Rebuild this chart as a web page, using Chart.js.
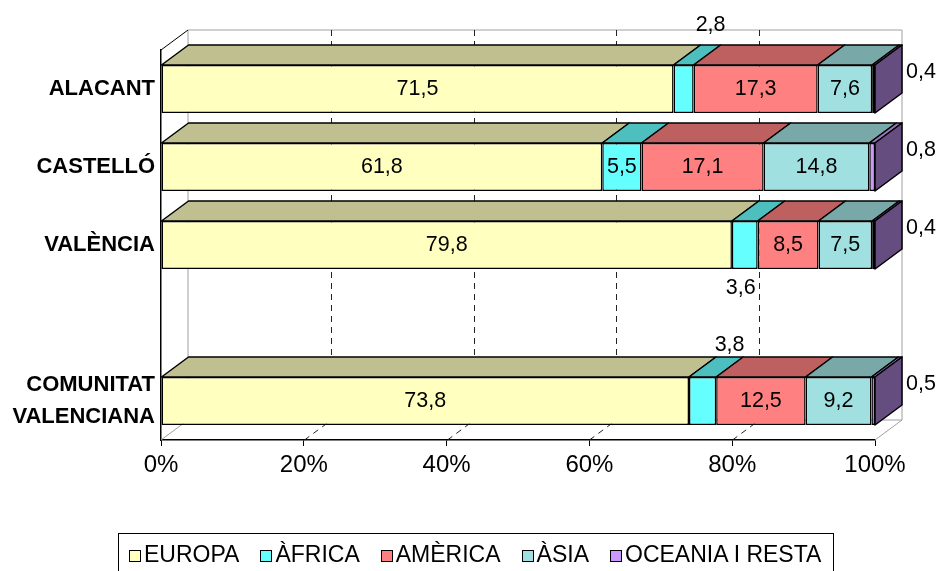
<!DOCTYPE html>
<html>
<head>
<meta charset="utf-8">
<script src="https://cdn.jsdelivr.net/npm/chart.js@4.4.1/dist/chart.umd.min.js"></script>
<style>
  html, body { margin: 0; padding: 0; background: #fff; }
  #wrap { position: relative; width: 942px; height: 571px; overflow: hidden; }
  #legend {
    position: absolute; left: 118px; top: 533px; width: 716px; height: 50px;
    box-sizing: border-box; border: 1px solid #000; padding: 7px 0 0 10px;
    font: 23px 'Liberation Sans', Arial, sans-serif; line-height: 26px; white-space: nowrap;
  }
  .item { display: inline-block; margin-right: 21px; }
  .box { display: inline-block; width: 10px; height: 10px; border: 1px solid #000; margin-right: 3px; }
</style>
</head>
<body>
<div id="wrap">
  <canvas id="chart" width="942" height="571"></canvas>
  <div id="legend"></div>
</div>
<script>
// dades (%)
const categories = ['ALACANT', 'CASTELLÓ', 'VALÈNCIA', '', ['COMUNITAT', 'VALENCIANA']];
const seriesNames = ['EUROPA', 'ÀFRICA', 'AMÈRICA', 'ÀSIA', 'OCEANIA I RESTA'];
const europa  = [71.5, 61.8, 79.8, null, 73.8];
const africa  = [2.8, 5.5, 3.6, null, 3.8];
const america = [17.3, 17.1, 8.5, null, 12.5];
const asia    = [7.6, 14.8, 7.5, null, 9.2];
const oceania = [0.4, 0.8, 0.4, null, 0.5];
const xTicks = [0, 20, 40, 60, 80, 100];

const series = [europa, africa, america, asia, oceania];
const colors = ['#ffffc0', '#66ffff', '#ff8080', '#a0e0e0', '#cc99ff'];
const FONT = "'Liberation Sans', Arial, sans-serif";
const DX = 27, DY = -20;

function shade(hex, k) {
    const n = parseInt(hex.slice(1), 16);
    const r = Math.round(((n >> 16) & 255) * k), g = Math.round(((n >> 8) & 255) * k), b = Math.round((n & 255) * k);
    return `rgb(${r},${g},${b})`;
}

// 100% apilat, com a Excel
const totals = categories.map((c, i) => series.reduce((s, arr) => s + (arr[i] || 0), 0));

const datasets = series.map((arr, di) => ({
    label: seriesNames[di],
    data: arr.map((v, i) => v == null ? null : v * 100 / totals[i]),
    raw: arr,
    backgroundColor: colors[di],
    borderColor: '#000',
    borderWidth: 1.5,
    borderSkipped: false,
    categoryPercentage: 1,
    barPercentage: 0.615
}));

function seg(ctx, pts, fill) {
    ctx.beginPath();
    ctx.moveTo(pts[0][0], pts[0][1]);
    for (let k = 1; k < pts.length; k++) ctx.lineTo(pts[k][0], pts[k][1]);
    ctx.closePath();
    ctx.fillStyle = fill;
    ctx.fill();
    ctx.stroke();
}

function line(ctx, x1, y1, x2, y2) {
    ctx.beginPath();
    ctx.moveTo(x1, y1);
    ctx.lineTo(x2, y2);
    ctx.stroke();
}

const depth3d = {
    id: 'depth3d',
    beforeDatasetsDraw(chart) {
        const {ctx, chartArea: a, scales: {x}} = chart;
        ctx.save();
        ctx.lineWidth = 1;
        // parets del fons
        ctx.strokeStyle = '#a0a0a0';
        line(ctx, a.left + DX, a.top + DY, a.right + DX, a.top + DY);
        line(ctx, a.left + DX, a.top + DY, a.left + DX, a.bottom + DY);
        line(ctx, a.right + DX, a.top + DY, a.right + DX, a.bottom + DY);
        line(ctx, a.left + DX, a.bottom + DY, a.right + DX, a.bottom + DY);
        line(ctx, a.left, a.bottom, a.left + DX, a.bottom + DY);
        line(ctx, a.right, a.bottom, a.right + DX, a.bottom + DY);
        ctx.strokeStyle = '#000';
        line(ctx, a.left, a.top, a.left + DX, a.top + DY);
        // quadrícula discontínua
        ctx.strokeStyle = '#222';
        ctx.setLineDash([6, 5]);
        x.ticks.forEach(t => {
            if (t.value <= 0 || t.value >= 100) return;
            const px = Math.round(x.getPixelForValue(t.value)) + 0.5;
            line(ctx, px + DX, a.top + DY, px + DX, a.bottom + DY);
            line(ctx, px, a.bottom, px + DX, a.bottom + DY);
        });
        ctx.restore();
    },
    afterDatasetsDraw(chart) {
        const ctx = chart.ctx;
        const last = chart.data.datasets.length - 1;
        ctx.save();
        ctx.lineWidth = 1.5;
        ctx.strokeStyle = '#000';
        ctx.lineJoin = 'round';
        chart.data.datasets.forEach((ds, di) => {
            chart.getDatasetMeta(di).data.forEach((bar, i) => {
                if (ds.data[i] == null) return;
                const p = bar.getProps(['x', 'y', 'base', 'height'], true);
                const t = p.y - p.height / 2, b = p.y + p.height / 2;
                seg(ctx, [[p.base, t], [p.base + DX, t + DY], [p.x + DX, t + DY], [p.x, t]], shade(colors[di], 0.75));
                if (di === last) {
                    seg(ctx, [[p.x, t], [p.x + DX, t + DY], [p.x + DX, b + DY], [p.x, b]], shade(colors[di], 0.5));
                }
            });
        });

        // etiquetes de valor
        ctx.font = '21.5px ' + FONT;
        ctx.fillStyle = '#000';
        ctx.textBaseline = 'middle';
        const smallUp = {0: 40, 4: 32};
        chart.data.datasets.forEach((ds, di) => {
            chart.getDatasetMeta(di).data.forEach((bar, i) => {
                const v = ds.raw[i];
                if (v == null) return;
                const p = bar.getProps(['x', 'y', 'base', 'height'], true);
                const t = p.y - p.height / 2, b = p.y + p.height / 2;
                const txt = v.toFixed(1).replace('.', ',');
                const cx = (p.base + p.x) / 2;
                if (di === last) {
                    ctx.textAlign = 'left';
                    ctx.fillText(txt, p.x + DX + 4, p.y - 17);
                } else if (di === 1 && v < 5) {
                    ctx.textAlign = 'center';
                    if (smallUp[i] != null) ctx.fillText(txt, cx + DX, t - smallUp[i]);
                    else ctx.fillText(txt, cx - 4, b + 19);
                } else {
                    ctx.textAlign = 'center';
                    ctx.fillText(txt, cx, p.y);
                }
            });
        });
        ctx.restore();
    }
};

new Chart(document.getElementById('chart'), {
    type: 'bar',
    data: { labels: categories, datasets: datasets },
    options: {
        indexAxis: 'y',
        responsive: false,
        animation: false,
        layout: { padding: { top: 50, right: 67, left: 0, bottom: 0 } },
        plugins: { legend: { display: false }, tooltip: { enabled: false } },
        scales: {
            x: {
                stacked: true,
                min: 0,
                max: 100,
                afterBuildTicks: s => { s.ticks = xTicks.map(v => ({ value: v })); },
                afterFit: s => { s.height = 131; },
                ticks: {
                    callback: v => v + '%',
                    autoSkip: false,
                    maxRotation: 0,
                    padding: 5,
                    color: '#000',
                    font: { family: FONT, size: 24 }
                },
                grid: { drawOnChartArea: false, drawTicks: true, tickLength: 6, color: '#000' },
                border: { display: true, color: '#000', width: 1.5 }
            },
            y: {
                stacked: true,
                afterFit: s => { s.width = 161; },
                ticks: {
                    padding: 6,
                    color: '#000',
                    font: { family: FONT, size: 22, weight: 'bold', lineHeight: 1.45 }
                },
                grid: { display: false, drawTicks: false },
                border: { display: true, color: '#000', width: 1.5 }
            }
        }
    },
    plugins: [depth3d]
});

// llegenda
const legend = document.getElementById('legend');
seriesNames.forEach((name, di) => {
    const item = document.createElement('span');
    item.className = 'item';
    const box = document.createElement('span');
    box.className = 'box';
    box.style.background = colors[di];
    item.appendChild(box);
    item.appendChild(document.createTextNode(name));
    legend.appendChild(item);
});
</script>
</body>
</html>
